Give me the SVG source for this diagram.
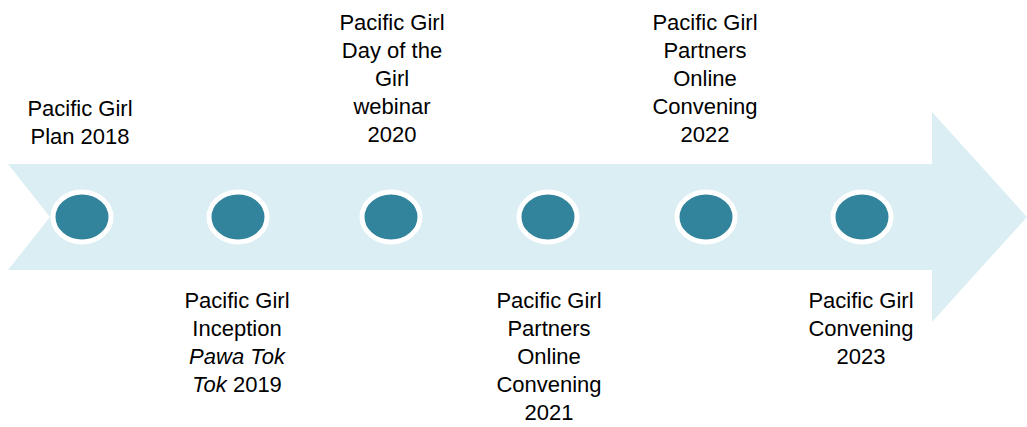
<svg xmlns="http://www.w3.org/2000/svg" width="1027" height="427" viewBox="0 0 1027 427">
<style>
.lbl{font-family:"Liberation Sans",Arial,sans-serif;font-size:22px;fill:#000;text-anchor:middle}
.dot{fill:#31849B;stroke:#fff;stroke-width:5}
</style>
<rect width="1027" height="427" fill="#fff"/>
<g id="arrow">
<polygon points="8,164 932,164 932,112 1027,217 932,322 932,270 8,270 50,217" fill="#DAEEF3"/>
</g>
<g id="node1"><ellipse class="dot" cx="82" cy="217" rx="29" ry="25"/>
<text class="lbl" x="80"><tspan x="80" y="116">Pacific Girl</tspan><tspan x="80" y="144">Plan 2018</tspan></text></g>
<g id="node2"><ellipse class="dot" cx="238" cy="217" rx="29" ry="25"/>
<text class="lbl"><tspan x="237" y="308">Pacific Girl</tspan><tspan x="237" y="336">Inception</tspan><tspan x="237" y="364" font-style="italic">Pawa Tok</tspan><tspan x="237" y="392"><tspan font-style="italic">Tok</tspan> 2019</tspan></text></g>
<g id="node3"><ellipse class="dot" cx="391" cy="217" rx="29" ry="25"/>
<text class="lbl"><tspan x="392" y="30">Pacific Girl</tspan><tspan x="392" y="58">Day of the</tspan><tspan x="392" y="86">Girl</tspan><tspan x="392" y="114">webinar</tspan><tspan x="392" y="142">2020</tspan></text></g>
<g id="node4"><ellipse class="dot" cx="548" cy="217" rx="29" ry="25"/>
<text class="lbl"><tspan x="549" y="308">Pacific Girl</tspan><tspan x="549" y="336">Partners</tspan><tspan x="549" y="364">Online</tspan><tspan x="549" y="392">Convening</tspan><tspan x="549" y="420">2021</tspan></text></g>
<g id="node5"><ellipse class="dot" cx="706" cy="217" rx="29" ry="25"/>
<text class="lbl"><tspan x="705" y="30">Pacific Girl</tspan><tspan x="705" y="58">Partners</tspan><tspan x="705" y="86">Online</tspan><tspan x="705" y="114">Convening</tspan><tspan x="705" y="142">2022</tspan></text></g>
<g id="node6"><ellipse class="dot" cx="862" cy="217" rx="29" ry="25"/>
<text class="lbl"><tspan x="861" y="308">Pacific Girl</tspan><tspan x="861" y="336">Convening</tspan><tspan x="861" y="364">2023</tspan></text></g>
<g id="connectors"/>
</svg>
